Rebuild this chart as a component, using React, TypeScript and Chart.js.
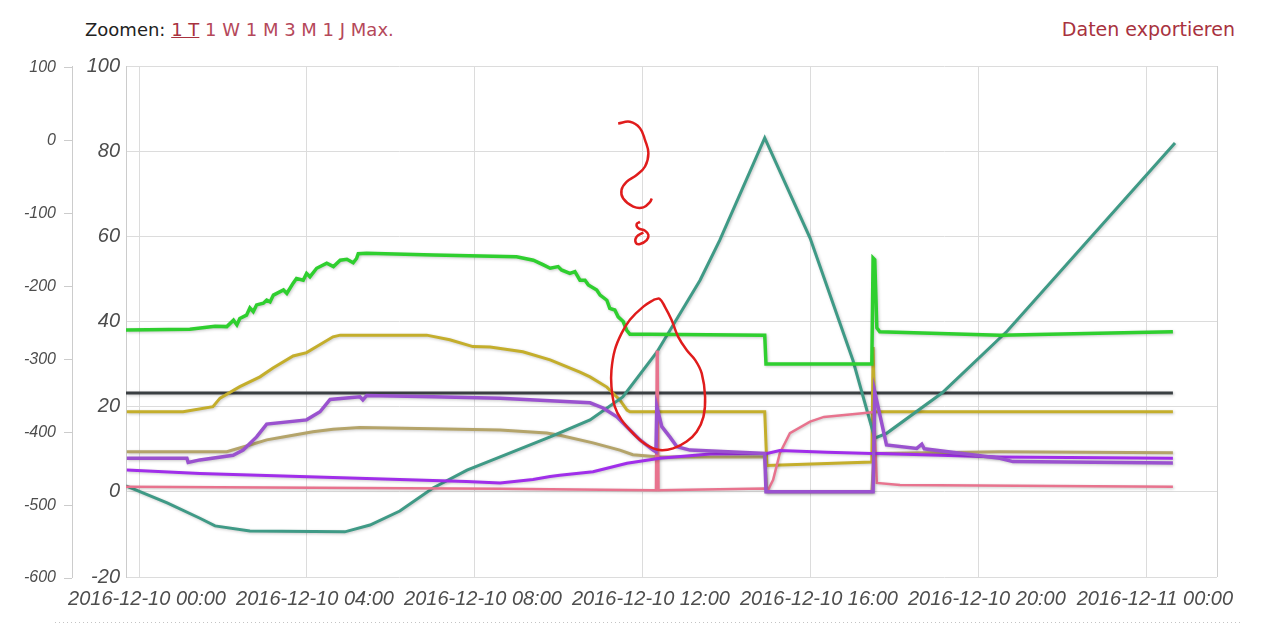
import React, { useEffect, useRef } from 'react';
import { Chart, registerables } from 'chart.js';

Chart.register(...registerables);

type P = [number, number];

// x axis (hours since 2016-12-10 00:00)
const xMin = -0.31;
const xMax = 25.67;
const xTickHours = [0, 4, 8, 12, 16, 20, 24];
const xTickLabels = [
  '2016-12-10 00:00',
  '2016-12-10 04:00',
  '2016-12-10 08:00',
  '2016-12-10 12:00',
  '2016-12-10 16:00',
  '2016-12-10 20:00',
  '2016-12-11 00:00',
];

// inner y axis
const innerMin = -20;
const innerMax = 100;
const innerStep = 20;
// outer y axis (its range is a little offset from the inner one in the original)
const outerMin = -598.6;
const outerMax = 102.7;
const outerTicks = [100, 0, -100, -200, -300, -400, -500, -600];

const greenSeries: P[] = [
  [-0.31, 38.0], [1.21, 38.2], [1.81, 38.9], [2.09, 38.8], [2.25, 40.3], [2.33, 39.2], [2.4, 40.7],
  [2.56, 41.5], [2.64, 43.2], [2.72, 42.3], [2.8, 43.9], [2.96, 44.3], [3.04, 45.0], [3.12, 44.6],
  [3.2, 46.2], [3.44, 47.4], [3.52, 46.6], [3.67, 49.0], [3.75, 50.1], [3.91, 49.7], [3.99, 51.3],
  [4.07, 50.5], [4.23, 52.5], [4.47, 53.7], [4.63, 52.9], [4.79, 54.4], [4.95, 54.6], [5.1, 53.8],
  [5.18, 54.8], [5.22, 55.9], [5.42, 56.0], [7.01, 55.6], [8.99, 55.2], [9.39, 54.4], [9.63, 53.3],
  [9.79, 52.5], [9.98, 52.9], [10.06, 52.1], [10.26, 51.3], [10.38, 51.7], [10.5, 49.7], [10.62, 49.7],
  [10.7, 48.6], [10.9, 47.4], [10.98, 46.2], [11.14, 45.0], [11.21, 43.1], [11.33, 42.7], [11.41, 41.1],
  [11.53, 40.0], [11.61, 38.0], [11.69, 37.0], [12.17, 37.0], [14.9, 36.8], [14.93, 30.0], [17.45, 30.0],
  [17.48, 54.9], [17.52, 54.5], [17.57, 38.5], [17.64, 37.6], [20.5, 36.8], [24.62, 37.6],
];

const tealSeries: P[] = [
  [-0.31, 1.4], [0.67, -2.6], [1.45, -6.2], [1.81, -8.0], [2.64, -9.2], [4.9, -9.4], [5.5, -7.8],
  [6.21, -4.5], [7.0, 0.9], [7.81, 5.1], [8.6, 8.2], [9.79, 12.9], [10.74, 16.9], [11.52, 22.3],
  [12.33, 32.8], [13.36, 49.7], [13.83, 59.1], [14.9, 83.1], [15.98, 59.6], [17.0, 30.9], [17.52, 12.6],
  [17.81, 13.8], [19.12, 23.2], [20.67, 37.7], [24.67, 81.9],
];

const goldSeries: P[] = [
  [-0.29, 18.8], [1.05, 18.8], [1.76, 20.0], [1.93, 22.0], [2.4, 24.7], [2.88, 27.0], [3.19, 29.1],
  [3.67, 31.9], [3.99, 32.7], [4.62, 36.4], [4.79, 36.8], [6.85, 36.8], [7.4, 35.7], [7.95, 34.1],
  [8.36, 34.0], [9.14, 32.9], [9.79, 31.0], [10.5, 28.1], [10.74, 27.0], [11.14, 24.6], [11.45, 21.6],
  [11.62, 19.2], [11.69, 18.8], [14.9, 18.8], [14.95, 6.2], [17.45, 7.0], [17.48, 34.0], [17.52, 18.8],
  [24.62, 18.8],
];

const tanSeries: P[] = [
  [-0.29, 9.4], [2.09, 9.4], [2.64, 11.0], [3.04, 12.2], [3.43, 12.9], [4.14, 14.1], [4.62, 14.7],
  [5.26, 15.1], [7.0, 14.8], [8.6, 14.5], [9.71, 13.8], [10.02, 13.3], [10.81, 11.5], [11.45, 9.8],
  [11.76, 8.7], [12.4, 8.2], [14.9, 8.2], [14.95, 0.0], [17.45, 0.0], [17.5, 9.0], [20.5, 9.4],
  [24.62, 9.2],
];

const purpleSeries: P[] = [
  [-0.29, 7.9], [1.14, 7.9], [1.17, 6.9], [1.45, 7.5], [2.24, 8.6], [2.48, 9.8], [2.8, 12.9],
  [3.04, 15.9], [3.99, 16.9], [4.31, 18.8], [4.55, 21.7], [5.26, 22.3], [5.33, 21.6], [5.42, 22.6],
  [7.0, 22.3], [8.6, 22.0], [9.79, 21.4], [10.74, 20.9], [11.05, 19.7], [11.38, 17.6], [11.69, 14.5],
  [11.93, 12.2], [12.24, 9.8], [12.31, 9.4], [12.33, 20.0], [12.45, 15.3], [12.64, 12.9], [12.81, 10.6],
  [13.12, 9.8], [14.9, 9.0], [14.93, 0.0], [17.48, 0.0], [17.52, 23.5], [17.8, 11.0], [18.52, 10.2],
  [18.64, 11.2], [18.7, 10.1], [20.5, 7.9], [20.81, 7.1], [24.62, 6.8],
];

const violetSeries: P[] = [
  [-0.29, 5.1], [1.45, 4.3], [3.83, 3.6], [6.21, 2.9], [7.8, 2.4], [8.6, 2.1], [9.38, 2.9], [9.79, 3.6],
  [10.02, 3.9], [10.81, 4.7], [11.62, 6.7], [12.4, 7.9], [13.6, 8.9], [14.95, 9.0], [15.26, 9.7],
  [16.38, 9.3], [17.45, 9.0], [17.64, 9.0], [20.5, 8.2], [24.62, 7.9],
];

const pinkSeries: P[] = [
  [-0.31, 1.2], [8.6, 0.7], [12.24, 0.4], [12.31, 0.4], [12.33, 32.9], [12.35, 32.9], [12.37, 0.4],
  [14.9, 0.8], [14.98, 0.4], [15.1, 2.8], [15.26, 9.1], [15.5, 13.8], [15.98, 16.5], [16.31, 17.6],
  [17.17, 18.4], [17.45, 18.7], [17.5, 18.7], [17.57, 2.1], [18.12, 1.6], [24.62, 1.2],
];

const darkSeries: P[] = [
  [-0.31, 23.2], [24.62, 23.2],
];

// hand-drawn red marks on the screenshot, in axis units
const scribbleTop: P[] = [
  [11.41, 86.5], [11.69, 86.9], [11.93, 85.4], [12.05, 82.6], [12.13, 79.5], [12.05, 76.4], [11.85, 74.4],
  [11.61, 72.8], [11.49, 70.9], [11.53, 68.9], [11.77, 67.0], [12.01, 66.8], [12.17, 68.1], [12.21, 68.9],
];
const scribbleDot: P[] = [
  [11.93, 63.4], [11.85, 62.9], [11.89, 61.9], [12.05, 61.3], [12.13, 60.3], [12.09, 59.1], [11.93, 58.2],
  [11.83, 58.5], [11.85, 59.9], [12.01, 60.9],
];
const scribbleLoop: P[] = [
  [12.29, 45.3], [12.01, 43.5], [11.69, 40.4], [11.49, 37.2], [11.33, 33.3], [11.25, 28.6], [11.25, 24.7],
  [11.33, 20.0], [11.49, 16.9], [11.77, 13.7], [12.09, 11.0], [12.4, 9.8], [12.72, 10.2], [13.04, 11.8],
  [13.28, 14.1], [13.44, 17.6], [13.48, 22.3], [13.4, 27.8], [13.24, 31.0], [13.04, 33.3], [12.84, 36.4],
  [12.68, 40.4], [12.52, 43.5], [12.4, 45.3], [12.29, 45.2],
];

const shadowPlugin = {
  id: 'hcShadow',
  beforeDatasetsDraw(chart: any) {
    const { ctx, chartArea: a } = chart;
    ctx.save();
    ctx.strokeStyle = '#d0d0d0';
    ctx.lineWidth = 1;
    ctx.beginPath();
    ctx.moveTo(Math.round(a.right) + 0.5, a.top);
    ctx.lineTo(Math.round(a.right) + 0.5, a.bottom);
    ctx.stroke();
    ctx.restore();
  },
  beforeDatasetDraw(chart: any, args: any) {
    const ds = chart.data.datasets[args.index];
    const ctx = chart.ctx;
    ctx.save();
    if (!ds.noShadow) {
      ctx.shadowColor = 'rgba(0,0,0,0.22)';
      ctx.shadowBlur = 3;
      ctx.shadowOffsetX = 1;
      ctx.shadowOffsetY = 1;
    }
  },
  afterDatasetDraw(chart: any) {
    chart.ctx.restore();
  },
};

export default function App() {
  const ref = useRef<HTMLCanvasElement>(null);

  useEffect(() => {
    const mk = (pts: P[], color: string, width: number, extra: any = {}) => ({
      data: pts.map(([x, y]) => ({ x, y })),
      borderColor: color,
      backgroundColor: color,
      borderWidth: width,
      pointRadius: 0,
      pointHoverRadius: 0,
      tension: 0,
      fill: false,
      yAxisID: 'y',
      ...extra,
    });
    const red = '#e01c1c';
    const chart = new Chart(ref.current as HTMLCanvasElement, {
      type: 'line',
      data: {
        datasets: [
          mk(scribbleTop, red, 2.5, { tension: 0.4, noShadow: true }),
          mk(scribbleDot, red, 2.5, { tension: 0.4, noShadow: true }),
          mk(scribbleLoop, red, 2.5, { tension: 0.4, noShadow: true }),
          mk(purpleSeries, '#9a52cf', 3.5),
          mk(violetSeries, '#a02eea', 3),
          mk(greenSeries, '#2fcf2f', 3.5),
          mk(pinkSeries, '#e8738e', 2.5),
          mk(tealSeries, '#3f9a86', 3),
          mk(goldSeries, '#c4ae2c', 3),
          mk(darkSeries, '#3a3f42', 3),
          mk(tanSeries, '#b4a46a', 3),
        ] as any,
      },
      options: {
        animation: false,
        responsive: false,
        events: [],
        layout: { padding: { left: 0, top: 66, right: 63, bottom: 16 } },
        plugins: { legend: { display: false }, tooltip: { enabled: false } },
        scales: {
          x: {
            type: 'linear',
            min: xMin,
            max: xMax,
            afterBuildTicks: (scale: any) => {
              scale.ticks = xTickHours.map((v) => ({ value: v }));
            },
            afterFit: (scale: any) => {
              scale.height = 40;
            },
            grid: { color: '#dcdcdc', drawTicks: false },
            border: { display: false },
            ticks: {
              autoSkip: false,
              maxRotation: 0,
              minRotation: 0,
              padding: 10,
              labelOffset: 8,
              color: '#4d4d4d',
              font: { family: 'Liberation Sans', size: 20, style: 'italic' },
              callback: (v: any) => {
                const i = xTickHours.indexOf(Number(v));
                return i >= 0 ? xTickLabels[i] : '';
              },
            },
          },
          y: {
            type: 'linear',
            position: 'left',
            weight: 0,
            min: innerMin,
            max: innerMax,
            afterFit: (scale: any) => {
              scale.width = 54;
            },
            grid: { color: '#dcdcdc', drawTicks: false },
            border: { display: true, color: '#cccccc' },
            ticks: {
              stepSize: innerStep,
              padding: 6,
              color: '#4d4d4d',
              font: { family: 'Liberation Sans', size: 20, style: 'italic' },
            },
          },
          y2: {
            type: 'linear',
            position: 'left',
            weight: 1,
            min: outerMin,
            max: outerMax,
            afterBuildTicks: (scale: any) => {
              scale.ticks = outerTicks.map((v) => ({ value: v }));
            },
            afterFit: (scale: any) => {
              scale.width = 72;
            },
            grid: { drawOnChartArea: false, drawTicks: true, tickLength: 8, color: '#cccccc' },
            border: { display: true, color: '#cccccc' },
            ticks: {
              autoSkip: false,
              padding: 8,
              color: '#4d4d4d',
              font: { family: 'Liberation Sans', size: 16, style: 'italic' },
              callback: (v: any) => String(v),
            },
          },
        },
      } as any,
      plugins: [shadowPlugin as any],
    });
    return () => chart.destroy();
  }, []);

  return (
    <div
      style={{
        position: 'fixed',
        left: 0,
        top: 0,
        width: 1280,
        height: 633,
        background: '#fff',
        overflow: 'hidden',
      }}
    >
      <div
        style={{
          position: 'absolute',
          left: 85,
          top: 19,
          font: "18px 'DejaVu Sans'",
          color: '#222',
          whiteSpace: 'nowrap',
        }}
      >
        Zoomen:{' '}
        <span style={{ color: '#a8323e', textDecoration: 'underline' }}>1 T</span>{' '}
        <span style={{ color: '#b5485a' }}>1 W 1 M 3 M 1 J Max.</span>
      </div>
      <div
        style={{
          position: 'absolute',
          right: 45,
          top: 18,
          font: "19px 'DejaVu Sans'",
          color: '#a8323e',
          whiteSpace: 'nowrap',
        }}
      >
        Daten exportieren
      </div>
      <canvas
        ref={ref}
        width={1280}
        height={633}
        style={{ position: 'absolute', left: 0, top: 0, width: 1280, height: 633 }}
      />
      <div
        style={{
          position: 'absolute',
          left: 55,
          top: 622,
          width: 1188,
          height: 1,
          backgroundImage: 'linear-gradient(to right, #c4c4c4 1px, transparent 1px)',
          backgroundSize: '4px 1px',
        }}
      />
    </div>
  );
}
